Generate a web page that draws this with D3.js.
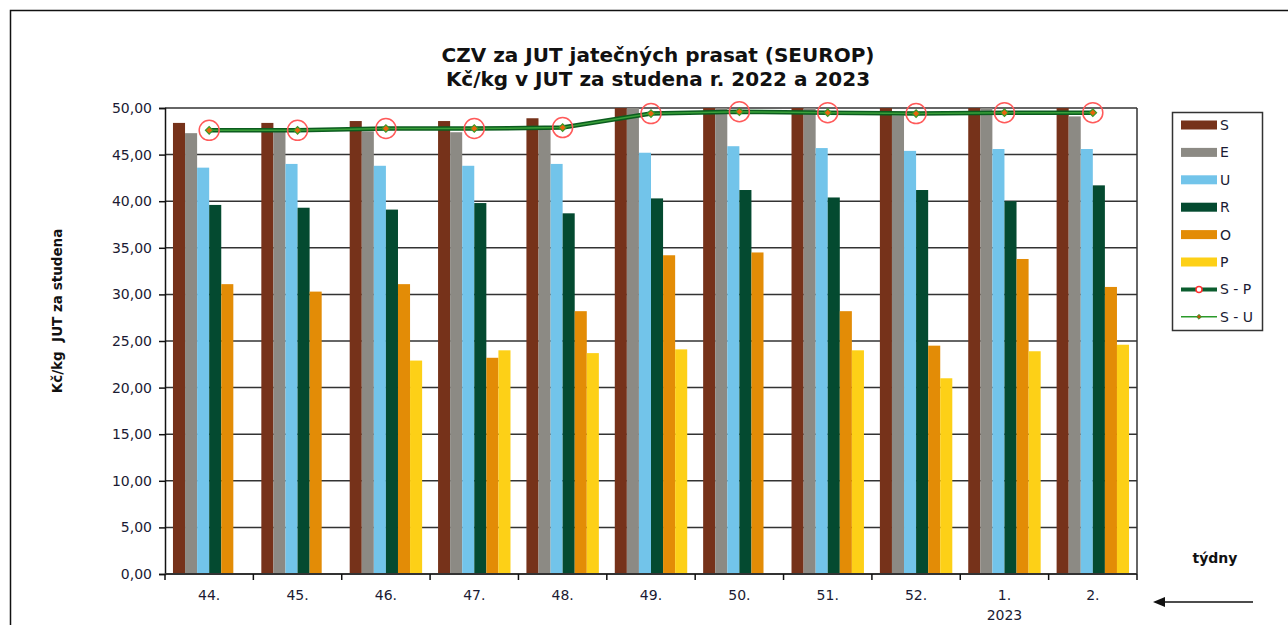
<!DOCTYPE html>
<html>
<head>
<meta charset="utf-8">
<script src="https://cdn.jsdelivr.net/npm/d3@7"></script>
<style>
  body { margin: 0; background: #fff; }
  svg { display: block; font-family: "DejaVu Sans", sans-serif; }
</style>
</head>
<body>
<div id="chart"></div>
<script>
// týdny (weeks)
const weeks = ["44.", "45.", "46.", "47.", "48.", "49.", "50.", "51.", "52.", "1.", "2."];

// Kč/kg per class
const S = [48.4, 48.4, 48.6, 48.6, 48.9, 51.0, 51.2, 51.1, 50.9, 51.3, 51.4];
const E = [47.3, 47.5, 47.5, 47.4, 47.8, 50.1, 50.2, 50.1, 49.2, 50.1, 49.1];
const U = [43.6, 44.0, 43.8, 43.8, 44.0, 45.2, 45.9, 45.7, 45.4, 45.6, 45.6];
const R = [39.6, 39.3, 39.1, 39.8, 38.7, 40.3, 41.2, 40.4, 41.2, 40.0, 41.7];
const O = [31.1, 30.3, 31.1, 23.2, 28.2, 34.2, 34.5, 28.2, 24.5, 33.8, 30.8];
const P = [null, null, 22.9, 24.0, 23.7, 24.1, null, 24.0, 21.0, 23.9, 24.6];

// souhrnné řady
const SP = [47.6, 47.6, 47.8, 47.8, 47.9, 49.4, 49.6, 49.5, 49.4, 49.5, 49.5];
const SU = [47.6, 47.6, 47.8, 47.8, 47.9, 49.4, 49.6, 49.5, 49.4, 49.5, 49.5];

const yTicks = [0, 5, 10, 15, 20, 25, 30, 35, 40, 45, 50];

const barSeries = [
  {key: "S", values: S, color: "#76321a"},
  {key: "E", values: E, color: "#8c8a84"},
  {key: "U", values: U, color: "#72c4ea"},
  {key: "R", values: R, color: "#044a30"},
  {key: "O", values: O, color: "#e38c06"},
  {key: "P", values: P, color: "#fdd017"}
];

const width = 1288, height = 625;
const margin = {left: 165, right: 151, top: 108, bottom: 51};
const pw = width - margin.left - margin.right;
const ph = height - margin.top - margin.bottom;

const svg = d3.select("#chart").append("svg")
    .attr("width", width)
    .attr("height", height);

// outer frame
svg.append("rect")
    .attr("x", 10.5).attr("y", 10.5)
    .attr("width", 1300).attr("height", 700)
    .attr("fill", "none").attr("stroke", "#111").attr("stroke-width", 1.5);

// title
const title = svg.append("text")
    .attr("text-anchor", "middle")
    .attr("font-weight", "bold")
    .attr("font-size", 20)
    .attr("fill", "#111");
title.append("tspan").attr("x", 658).attr("y", 62).text("CZV za JUT jatečných prasat (SEUROP)");
title.append("tspan").attr("x", 658).attr("y", 86).text("Kč/kg v JUT za studena r. 2022 a 2023");

const g = svg.append("g").attr("transform", `translate(${margin.left},${margin.top})`);

const x0 = d3.scaleBand().domain(weeks).range([0, pw]).padding(0);
const x1 = d3.scaleBand().domain(barSeries.map(d => d.key))
    .range([0, x0.bandwidth()]).paddingOuter(0.66);
const y = d3.scaleLinear().domain([0, 50]).range([ph, 0]);

// gridlines
g.append("g")
  .selectAll("line")
  .data(yTicks.filter(t => t > 0))
  .join("line")
    .attr("x1", 0).attr("x2", pw)
    .attr("y1", d => y(d)).attr("y2", d => y(d))
    .attr("stroke", "#333").attr("stroke-width", 1.5);

// right border
g.append("line")
    .attr("x1", pw).attr("x2", pw).attr("y1", 0).attr("y2", ph)
    .attr("stroke", "#333").attr("stroke-width", 1.5);

// bars, clipped at 50
g.append("clipPath").attr("id", "plotclip")
  .append("rect").attr("width", pw).attr("height", ph);

const bars = g.append("g").attr("clip-path", "url(#plotclip)");
barSeries.forEach(s => {
  bars.append("g")
    .selectAll("rect")
    .data(s.values.map((v, i) => ({week: weeks[i], v})).filter(d => d.v != null))
    .join("rect")
      .attr("x", d => x0(d.week) + x1(s.key))
      .attr("width", x1.bandwidth())
      .attr("y", d => y(d.v))
      .attr("height", d => ph - y(d.v))
      .attr("fill", s.color);
});

// y axis
const yAxis = g.append("g")
    .call(d3.axisLeft(y).tickValues(yTicks).tickSize(6).tickPadding(7)
      .tickFormat(d => d3.format(".2f")(d).replace(".", ",")));
yAxis.select(".domain").attr("stroke", "#111").attr("stroke-width", 1.5);
yAxis.selectAll(".tick line").attr("stroke", "#111").attr("stroke-width", 1.5);
yAxis.selectAll("text").attr("font-size", 14).attr("fill", "#1b1b33")
    .attr("font-family", "DejaVu Sans");

// x axis: ticks between categories
const xAxis = g.append("g").attr("transform", `translate(0,${ph})`);
xAxis.append("line").attr("x1", 0).attr("x2", pw)
    .attr("stroke", "#333").attr("stroke-width", 2);
xAxis.selectAll("line.tk")
  .data(weeks.concat(["end"]))
  .join("line").attr("class", "tk")
    .attr("x1", (d, i) => i * x0.step()).attr("x2", (d, i) => i * x0.step())
    .attr("y1", 0).attr("y2", 6)
    .attr("stroke", "#111").attr("stroke-width", 1.5);
xAxis.selectAll("text.lbl")
  .data(weeks)
  .join("text").attr("class", "lbl")
    .attr("x", d => x0(d) + x0.bandwidth() / 2)
    .attr("y", 26)
    .attr("text-anchor", "middle")
    .attr("font-size", 14).attr("fill", "#1b1b33")
    .text(d => d);
xAxis.append("text")
    .attr("x", x0("1.") + x0.bandwidth() / 2).attr("y", 46)
    .attr("text-anchor", "middle")
    .attr("font-size", 14).attr("fill", "#1b1b33")
    .text("2023");

// lines
const line = d3.line()
    .x((d, i) => x0(weeks[i]) + x0.bandwidth() / 2)
    .y(d => y(d));

g.append("path").datum(SP).attr("d", line)
    .attr("fill", "none").attr("stroke", "#0b5d1e").attr("stroke-width", 4.5);
g.append("path").datum(SU).attr("d", line)
    .attr("fill", "none").attr("stroke", "#3aa03a").attr("stroke-width", 1.5);

g.append("g").selectAll("circle")
  .data(SP).join("circle")
    .attr("cx", (d, i) => x0(weeks[i]) + x0.bandwidth() / 2)
    .attr("cy", d => y(d))
    .attr("r", 10)
    .attr("fill", "none").attr("stroke", "#ff5a5a").attr("stroke-width", 1.5);

const diamond = d3.symbol().type(d3.symbolSquare).size(28);
g.append("g").selectAll("path")
  .data(SU).join("path")
    .attr("transform", (d, i) => `translate(${x0(weeks[i]) + x0.bandwidth() / 2},${y(d)}) rotate(45)`)
    .attr("d", diamond)
    .attr("fill", "#e8650c").attr("stroke", "#3a9a2a").attr("stroke-width", 1.2);

// y label
svg.append("text")
    .attr("transform", "translate(62,311) rotate(-90)")
    .attr("text-anchor", "middle")
    .attr("font-weight", "bold").attr("font-size", 13.5).attr("fill", "#111")
    .attr("xml:space", "preserve")
    .text("Kč/kg  JUT za studena");

// týdny + arrow
svg.append("text")
    .attr("x", 1215).attr("y", 563)
    .attr("text-anchor", "middle")
    .attr("font-weight", "bold").attr("font-size", 14).attr("fill", "#111")
    .text("týdny");
svg.append("line")
    .attr("x1", 1162).attr("x2", 1253).attr("y1", 602).attr("y2", 602)
    .attr("stroke", "#111").attr("stroke-width", 1.5);
svg.append("path")
    .attr("d", "M1153,602 L1165,597 L1165,607 Z")
    .attr("fill", "#111");

// legend
const legend = svg.append("g");
legend.append("rect")
    .attr("x", 1172.5).attr("y", 112.5).attr("width", 90).attr("height", 218)
    .attr("fill", "#fff").attr("stroke", "#333").attr("stroke-width", 1.5);

const legendItems = barSeries.map(s => ({label: s.key, type: "bar", color: s.color}))
  .concat([{label: "S - P", type: "sp"}, {label: "S - U", type: "su"}]);

const li = legend.selectAll("g.item")
  .data(legendItems).join("g").attr("class", "item")
    .attr("transform", (d, i) => `translate(1181,${125 + i * 27.4})`);

li.filter(d => d.type === "bar").append("rect")
    .attr("x", 0).attr("y", -4.5).attr("width", 36).attr("height", 9)
    .attr("fill", d => d.color);
li.filter(d => d.type === "sp").each(function() {
  const s = d3.select(this);
  s.append("line").attr("x1", 0).attr("x2", 36).attr("y1", 0).attr("y2", 0)
    .attr("stroke", "#0b5d2e").attr("stroke-width", 4);
  s.append("circle").attr("cx", 18).attr("cy", 0).attr("r", 3)
    .attr("fill", "#fff").attr("stroke", "#ff3030").attr("stroke-width", 1.5);
});
li.filter(d => d.type === "su").each(function() {
  const s = d3.select(this);
  s.append("line").attr("x1", 0).attr("x2", 36).attr("y1", 0).attr("y2", 0)
    .attr("stroke", "#2a9a2a").attr("stroke-width", 1.5);
  s.append("path").attr("transform", "translate(18,0) rotate(45)")
    .attr("d", d3.symbol().type(d3.symbolSquare).size(12))
    .attr("fill", "#b8560a").attr("stroke", "#2a9a2a").attr("stroke-width", 0.8);
});
li.append("text")
    .attr("x", 39).attr("y", 5)
    .attr("font-size", 14).attr("fill", "#1b1b33")
    .text(d => d.label);
</script>
</body>
</html>
